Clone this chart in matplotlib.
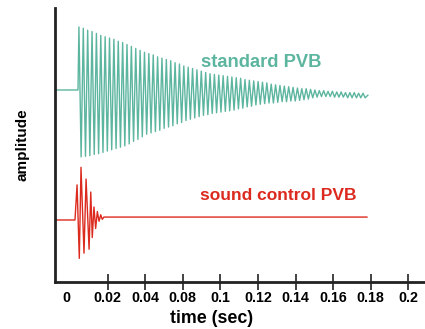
import numpy as np
from matplotlib import pyplot as plt

plt.rcParams['font.family'] = ['Liberation Sans', 'DejaVu Sans']

teal = '#5cb59f'
red = '#dc2a1f'

# standard PVB: peak heights of each cycle (upper and lower), offset 3
std_top = [0.97, 0.95, 0.92, 0.90, 0.87, 0.84, 0.82, 0.80, 0.78, 0.75, 0.73,
           0.70, 0.67, 0.64, 0.61, 0.58, 0.56, 0.54, 0.51, 0.49, 0.47,
           0.45, 0.42, 0.40, 0.37, 0.35, 0.33, 0.31, 0.29, 0.27, 0.25,
           0.24, 0.23, 0.22, 0.21, 0.20, 0.19, 0.18, 0.16, 0.15, 0.14,
           0.13, 0.12, 0.11, 0.09, 0.08, 0.07, 0.06, 0.05, 0.04, 0.03,
           0.02, 0.02, 0.01, 0.00, -0.01, -0.01, -0.02, -0.02, -0.03, -0.03,
           -0.04, -0.04, -0.04, -0.05, -0.05]
std_bottom = [-1.03, -1.02, -1.01, -0.99, -0.98, -0.96, -0.94, -0.92, -0.90, -0.88, -0.86,
              -0.83, -0.79, -0.76, -0.72, -0.68, -0.66, -0.64, -0.62, -0.59, -0.57,
              -0.55, -0.52, -0.50, -0.47, -0.45, -0.43, -0.41, -0.39, -0.38, -0.36,
              -0.35, -0.34, -0.33, -0.32, -0.31, -0.29, -0.28, -0.26, -0.25, -0.23,
              -0.22, -0.21, -0.20, -0.20, -0.19, -0.18, -0.18, -0.17, -0.17, -0.16,
              -0.15, -0.14, -0.12, -0.11, -0.10, -0.10, -0.10, -0.11, -0.11, -0.11,
              -0.12, -0.12, -0.12, -0.12, -0.12]
std_onset = 0.0047      # time of first peak
std_period = 0.002326   # one cycle
std_lead = [-0.0071, 0.0042]   # flat line before onset
std_end = [0.1585, -0.08]      # last point (time, value)
std_offset = 3.0

# sound control PVB vertices
snd_t = [-0.0071, 0.0026, 0.0037, 0.0049, 0.0058, 0.0074, 0.0085, 0.0101, 0.0110,
         0.0118, 0.0127, 0.0136, 0.0145, 0.0154, 0.0163, 0.0171, 0.0180, 0.1580]
snd_amp = [0, 0, 0.54, -0.59, 0.81, -0.51, 0.63, -0.45, 0.43, -0.27, 0.20,
           -0.13, 0.13, -0.02, 0.08, 0.01, 0.045, 0.045]
snd_offset = 1.0

tick_pos = [-0.0018, 0.02, 0.04, 0.06, 0.08, 0.10, 0.12, 0.14, 0.16, 0.18]
tick_lbl = ['0', '0.02', '0.04', '0.08', '0.1', '0.12', '0.14', '0.16', '0.18', '0.2']

# build the zigzag for standard PVB
n = len(std_top)
t_top = std_onset + std_period * np.arange(n)
t_bot = t_top + std_period / 2
std_t = list(std_lead) + list(np.ravel(np.column_stack([t_top, t_bot]))) + [std_end[0]]
std_y = [0, 0] + list(np.ravel(np.column_stack([std_top, std_bottom]))) + [std_end[1]]
std_y = np.array(std_y) + std_offset

fig = plt.figure(figsize=(4.25, 3.29), dpi=100)
ax = fig.add_axes([0.1294, 0.1438, 0.8706, 0.8310])

ax.plot(std_t, std_y, color=teal, lw=1.0)
ax.plot(snd_t, np.array(snd_amp) + snd_offset, color=red, lw=1.0)

ax.text(0.0699, 3.36, 'standard PVB', color=teal, fontsize=13.2, fontweight='bold')
ax.text(0.0693, 1.30, 'sound control PVB', color=red, fontsize=12.5, fontweight='bold')

ax.set_xlim(-0.00804, 0.1889)
ax.set_ylim(0.0508, 4.257)

ax.set_xticks(tick_pos)
ax.set_xticklabels(tick_lbl, fontweight='bold', fontsize=10.3)
ax.xaxis.get_major_ticks()[0].tick1line.set_visible(False)
ax.tick_params(axis='x', direction='inout', length=11, width=1.2, pad=1, color='#222222')
ax.set_yticks([])

ax.spines['top'].set_visible(False)
ax.spines['right'].set_visible(False)
ax.spines['left'].set_linewidth(2)
ax.spines['bottom'].set_linewidth(2)
ax.spines['left'].set_color('#222222')
ax.spines['bottom'].set_color('#222222')

ax.set_xlabel('time (sec)', fontweight='bold', fontsize=12.8)
ax.xaxis.set_label_coords(0.4225, -0.105)
ax.set_ylabel('amplitude', fontweight='bold', fontsize=11, labelpad=18)

fig.savefig('out.png', dpi=100)
